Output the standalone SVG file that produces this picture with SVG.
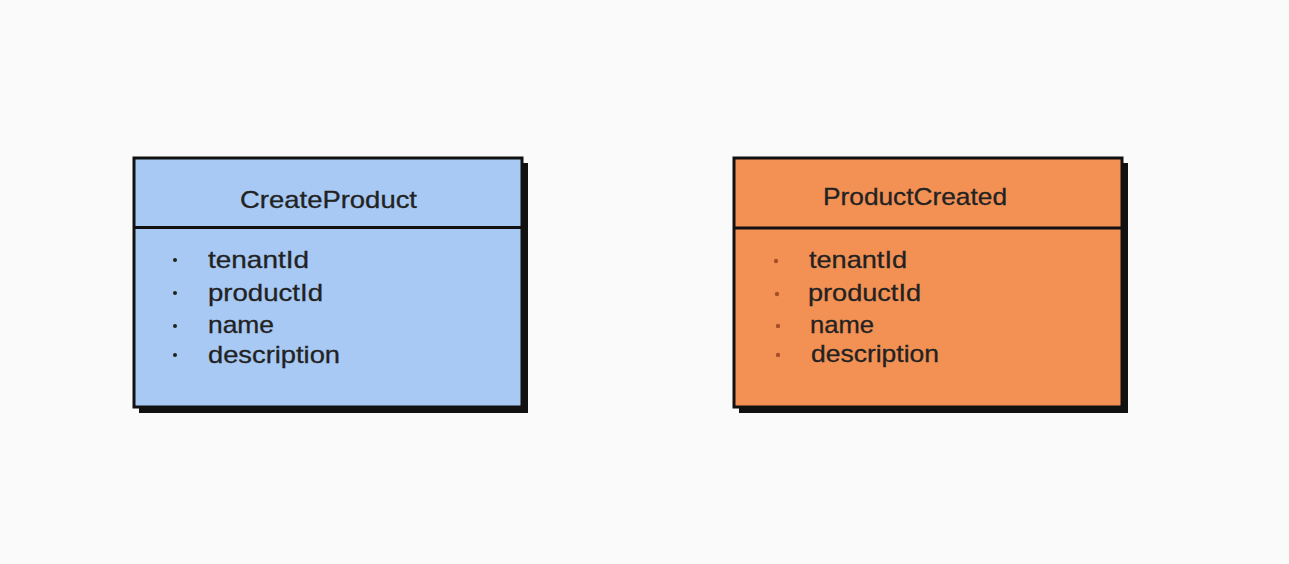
<svg xmlns="http://www.w3.org/2000/svg" width="1289" height="564" viewBox="0 0 1289 564">
  <style>
    .shadow { fill: #111111; }
    .box { stroke: #111111; stroke-width: 3; }
    .blue { fill: #a7c9f4; }
    .orange { fill: #f39155; }
    .div { stroke: #111111; stroke-width: 3; }
    .title { font-family: "Liberation Sans", Arial, sans-serif; font-size: 24px; fill: #222222; stroke: #222222; stroke-width: 0.3; }
    .item { font-family: "Liberation Sans", Arial, sans-serif; font-size: 24px; fill: #222222; stroke: #222222; stroke-width: 0.3; }
    .dot-b { fill: #222222; }
    .dot-o { fill: #a8502a; }
  </style>
  <rect x="0" y="0" width="1289" height="564" fill="#fafafa"/>

  <g id="CreateProduct">
    <rect class="shadow" x="139" y="163" width="389" height="250"/>
    <rect class="box blue" x="134" y="158" width="388" height="249"/>
    <line class="div" x1="134" y1="227.5" x2="522" y2="227.5"/>
    <text class="title" x="240" y="208" textLength="177" lengthAdjust="spacingAndGlyphs">CreateProduct</text>
    <circle class="dot-b" cx="175" cy="260" r="2"/>
    <circle class="dot-b" cx="175" cy="293" r="2"/>
    <circle class="dot-b" cx="175" cy="326" r="2"/>
    <circle class="dot-b" cx="175" cy="355" r="2"/>
    <text class="item" x="208" y="268" textLength="101" lengthAdjust="spacingAndGlyphs">tenantId</text>
    <text class="item" x="208" y="301" textLength="115" lengthAdjust="spacingAndGlyphs">productId</text>
    <text class="item" x="208" y="333" textLength="66" lengthAdjust="spacingAndGlyphs">name</text>
    <text class="item" x="208" y="363" textLength="132" lengthAdjust="spacingAndGlyphs">description</text>
  </g>

  <g id="ProductCreated">
    <rect class="shadow" x="739" y="163" width="389" height="250"/>
    <rect class="box orange" x="734" y="158" width="388" height="249"/>
    <line class="div" x1="734" y1="228" x2="1122" y2="228"/>
    <text class="title" x="823" y="205" textLength="184" lengthAdjust="spacingAndGlyphs">ProductCreated</text>
    <circle class="dot-o" cx="776" cy="261" r="2.2"/>
    <circle class="dot-o" cx="777" cy="294" r="2.2"/>
    <circle class="dot-o" cx="778" cy="326" r="2.2"/>
    <circle class="dot-o" cx="778" cy="355" r="2.2"/>
    <text class="item" x="809" y="268" textLength="98" lengthAdjust="spacingAndGlyphs">tenantId</text>
    <text class="item" x="808" y="301" textLength="113" lengthAdjust="spacingAndGlyphs">productId</text>
    <text class="item" x="810" y="333" textLength="64" lengthAdjust="spacingAndGlyphs">name</text>
    <text class="item" x="811" y="362" textLength="128" lengthAdjust="spacingAndGlyphs">description</text>
  </g>

  <g id="connectors"></g>
</svg>
